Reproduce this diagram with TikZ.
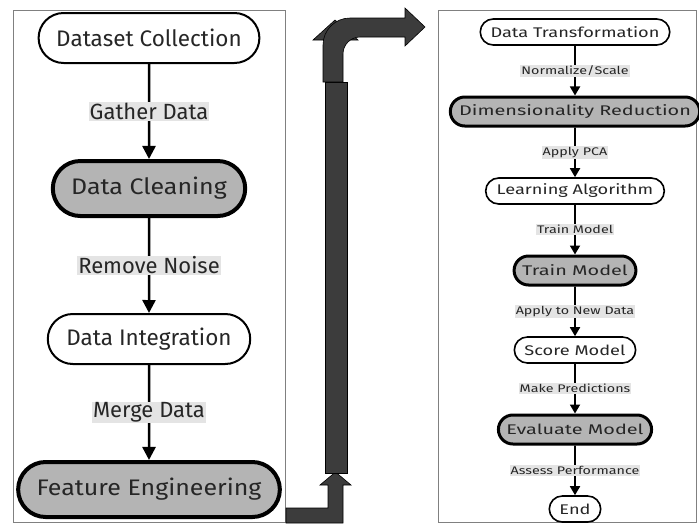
\documentclass[tikz,border=0pt]{standalone}
\usepackage{fontspec}
\setmainfont{Fira Sans}
\newfontfamily\keysans[FakeStretch=1.11]{Fira Sans}
\newfontfamily\widesans[FakeStretch=1.3]{Fira Sans}
\newfontfamily\widekeysans[FakeStretch=1.42]{Fira Sans}
\usetikzlibrary{shapes.misc,arrows.meta}
\definecolor{boxgray}{HTML}{B4B4B4}
\definecolor{lblgray}{HTML}{E4E4E4}
\definecolor{bigarrow}{HTML}{3C3C3C}
\begin{document}
\begin{tikzpicture}[x=1pt, y=-1pt,
    stage/.style={rounded rectangle, draw, fill=white, text=black!85},
    bigstage/.style={stage, line width=2pt, font=\fontsize{22.5}{25}\selectfont, minimum height=50pt, inner xsep=16pt},
    bigkey/.style={bigstage, fill=boxgray, line width=4pt, minimum height=55pt, font=\keysans\fontsize{22.5}{25}\selectfont},
    smallstage/.style={stage, line width=1.6pt, font=\widesans\fontsize{14}{16}\selectfont, minimum height=26pt, inner xsep=9pt},
    smallkey/.style={smallstage, fill=boxgray, line width=3pt, minimum height=29pt, inner xsep=7pt, font=\widekeysans\fontsize{14}{16}\selectfont},
    biglbl/.style={fill=lblgray, inner sep=1pt, text=black!85, font=\fontsize{22}{24}\selectfont},
    smalllbl/.style={fill=lblgray, inner sep=1pt, text=black!85, font=\widesans\fontsize{11}{13}\selectfont},
    bigflow/.style={line width=2.5pt, -{Triangle[width=13pt,length=13pt]}},
    smallflow/.style={line width=1.8pt, -{Triangle[width=10pt,length=9pt]}}]
    \useasboundingbox (0,0) rectangle (699,525);
    % the two panels
    \draw[gray, line width=1pt] (13,10) rectangle (285,522);
    \draw[gray, line width=1pt] (438,10) rectangle (696,522);

    % left panel: preparing the data
    \begin{scope}[node distance=150.5pt]
    \node[bigstage] (collect) at (149,38) {Dataset Collection};
    \node[bigkey, below of=collect] (clean) {Data Cleaning};
    \node[bigstage, below of=clean] (integrate) {Data Integration};
    \node[bigkey, below of=integrate] (features) {Feature Engineering};
    \draw[bigflow] (collect) -- node[biglbl] {Gather Data} (clean);
    \draw[bigflow] (clean) -- node[biglbl] {Remove Noise} (integrate);
    \draw[bigflow] (integrate) -- node[biglbl] {Merge Data} (features);
    \end{scope}

    % big arrow between the panels
    \filldraw[fill=bigarrow, draw=black, line width=0.6pt]
        (286,508) -- (328,508) -- (328,485) -- (320,485) -- (335.5,472)
        -- (351,485) -- (343,485) -- (343,523) -- (286,523) -- cycle;
    \filldraw[fill=bigarrow, draw=black, line width=0.6pt]
        (313,40) -- (335,20) -- (358,40) -- cycle;
    \filldraw[fill=bigarrow, draw=black, line width=0.6pt]
        (325,473) rectangle (347,82);
    \filldraw[fill=bigarrow, draw=black, line width=0.6pt]
        (323,82) -- (323,45) arc[start angle=180, end angle=270, radius=27]
        -- (405,18) -- (405,8) -- (425,27) -- (405,46) -- (405,37) -- (360,37)
        arc[start angle=270, end angle=180, radius=17] -- (343,82) -- cycle;

    % right panel: modelling
    \begin{scope}[node distance=79.5pt]
    \node[smallstage] (transform) at (575,32) {Data Transformation};
    \node[smallkey, below of=transform] (reduce) {Dimensionality Reduction};
    \node[smallstage, below of=reduce] (learn) {Learning Algorithm};
    \node[smallkey, below of=learn] (train) {Train Model};
    \node[smallstage, below of=train] (score) {Score Model};
    \node[smallkey, below of=score] (evaluate) {Evaluate Model};
    \node[smallstage, below of=evaluate] (finish) {End};
    \draw[smallflow] (transform) -- node[smalllbl] {Normalize/Scale} (reduce);
    \draw[smallflow] (reduce) -- node[smalllbl] {Apply PCA} (learn);
    \draw[smallflow] (learn) -- node[smalllbl] {Train Model} (train);
    \draw[smallflow] (train) -- node[smalllbl] {Apply to New Data} (score);
    \draw[smallflow] (score) -- node[smalllbl] {Make Predictions} (evaluate);
    \draw[smallflow] (evaluate) -- node[smalllbl] {Assess Performance} (finish);
    \end{scope}
\end{tikzpicture}
\end{document}
